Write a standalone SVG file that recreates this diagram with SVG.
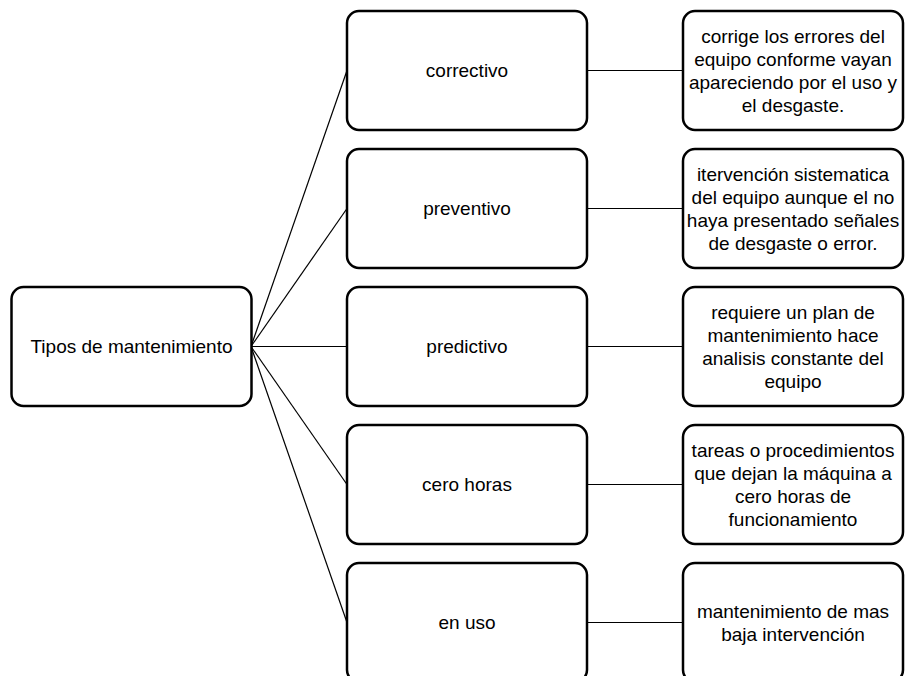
<svg xmlns="http://www.w3.org/2000/svg" width="915" height="676" viewBox="0 0 915 676">
<style>
.box{fill:#fff;stroke:#000;stroke-width:2.5}
.ln{stroke:#000;stroke-width:1.2;fill:none}
text{font-family:"Liberation Sans",Arial,sans-serif;font-size:19px;fill:#000;text-anchor:middle}
</style>
<rect width="915" height="676" fill="#fff"/>
<g id="connectors">
<line class="ln" x1="251" y1="346.5" x2="347" y2="70.5"/>
<line class="ln" x1="251" y1="346.5" x2="347" y2="208.5"/>
<line class="ln" x1="251" y1="346.5" x2="347" y2="346.5"/>
<line class="ln" x1="251" y1="346.5" x2="347" y2="484.5"/>
<line class="ln" x1="251" y1="346.5" x2="347" y2="622.5"/>
<line class="ln" x1="587" y1="70.5" x2="683" y2="70.5"/>
<line class="ln" x1="587" y1="208.5" x2="683" y2="208.5"/>
<line class="ln" x1="587" y1="346.5" x2="683" y2="346.5"/>
<line class="ln" x1="587" y1="484.5" x2="683" y2="484.5"/>
<line class="ln" x1="587" y1="622.5" x2="683" y2="622.5"/>
</g>
<g id="root"><rect class="box" x="11.5" y="287" width="240" height="119" rx="12"/><text x="131.5" y="353">Tipos de mantenimiento</text></g>
<g id="correctivo"><rect class="box" x="347" y="11" width="240" height="119" rx="12"/><text x="467" y="77">correctivo</text></g>
<g id="preventivo"><rect class="box" x="347" y="149" width="240" height="119" rx="12"/><text x="467" y="215">preventivo</text></g>
<g id="predictivo"><rect class="box" x="347" y="287" width="240" height="119" rx="12"/><text x="467" y="353">predictivo</text></g>
<g id="cerohoras"><rect class="box" x="347" y="425" width="240" height="119" rx="12"/><text x="467" y="491">cero horas</text></g>
<g id="enuso"><rect class="box" x="347" y="563" width="240" height="119" rx="12"/><text x="467" y="629">en uso</text></g>
<g id="d1"><rect class="box" x="683" y="11" width="220" height="119" rx="12"/><text x="793"><tspan x="793" y="43">corrige los errores del</tspan><tspan x="793" y="66">equipo conforme vayan</tspan><tspan x="793" y="89">apareciendo por el uso y</tspan><tspan x="793" y="112">el desgaste.</tspan></text></g>
<g id="d2"><rect class="box" x="683" y="149" width="220" height="119" rx="12"/><text x="793"><tspan x="793" y="181">itervención sistematica</tspan><tspan x="793" y="204">del equipo aunque el no</tspan><tspan x="793" y="227">haya presentado señales</tspan><tspan x="793" y="250">de desgaste o error.</tspan></text></g>
<g id="d3"><rect class="box" x="683" y="287" width="220" height="119" rx="12"/><text x="793"><tspan x="793" y="319">requiere un plan de</tspan><tspan x="793" y="342">mantenimiento hace</tspan><tspan x="793" y="365">analisis constante del</tspan><tspan x="793" y="388">equipo</tspan></text></g>
<g id="d4"><rect class="box" x="683" y="425" width="220" height="119" rx="12"/><text x="793"><tspan x="793" y="457">tareas o procedimientos</tspan><tspan x="793" y="480">que dejan la máquina a</tspan><tspan x="793" y="503">cero horas de</tspan><tspan x="793" y="526">funcionamiento</tspan></text></g>
<g id="d5"><rect class="box" x="683" y="563" width="220" height="119" rx="12"/><text x="793"><tspan x="793" y="618">mantenimiento de mas</tspan><tspan x="793" y="641">baja intervención</tspan></text></g>
</svg>
